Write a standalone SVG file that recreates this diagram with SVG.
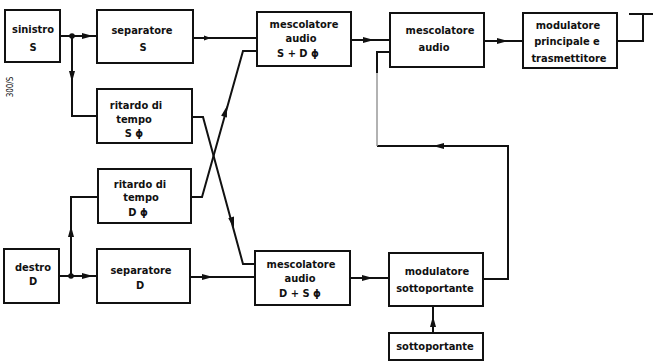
<svg xmlns="http://www.w3.org/2000/svg" xmlns:xlink="http://www.w3.org/1999/xlink" width="653" height="361" viewBox="0 0 653 361">
<style>
.box{fill:#fff;stroke:#111;stroke-width:2}
.t{font-family:"DejaVu Sans Condensed","DejaVu Sans",sans-serif;font-stretch:condensed;font-size:11px;font-weight:bold;fill:#111;text-anchor:middle}
.ln{fill:none;stroke:#111;stroke-width:2}
.gr{fill:none;stroke:#999;stroke-width:1.5}
.ah{fill:#111}
</style>
<defs>
<path id="ah" d="M0,0 L-11,-3 L-11,3 Z"/>
<path id="ahs" d="M0,0 L-7,-2.5 L-7,2.5 Z"/>
</defs>
<rect width="653" height="361" fill="#fff"/>
<text class="t" transform="translate(13,87) rotate(-90)" style="font-size:8px;font-weight:normal">300/S</text>

<g id="connectors">
<path class="ln" d="M60,36 H97"/>
<path class="ln" d="M72,36 V116 H97"/>
<path class="ln" d="M193,38 H257"/>
<path class="ln" d="M351,40 H390"/>
<path class="ln" d="M484,41 H523"/>
<path class="ln" d="M617,41 H643 V14 M629,14 H653"/>
<path class="ln" d="M192,117 H203 L243,264 H255"/>
<path class="ln" d="M191,197 H202 L243,51 H257"/>
<path class="ln" d="M59,276 H97"/>
<path class="ln" d="M71,276 V197 H98"/>
<path class="ln" d="M190,277 H255"/>
<path class="ln" d="M350,278 H389"/>
<path class="ln" d="M433,333 V306"/>
<path class="ln" d="M483,279 H508 V146 H377"/>
<path class="gr" d="M377,146 V72"/>
<path class="ln" d="M377,73 V52 H390"/>
<circle cx="72" cy="36" r="2.8" class="ah"/>
<circle cx="71" cy="276" r="2.8" class="ah"/>
<use xlink:href="#ah" class="ah" transform="translate(93,36)"/>
<use xlink:href="#ah" class="ah" transform="translate(72,82) rotate(90)"/>
<use xlink:href="#ahs" class="ah" transform="translate(211,38)"/>
<use xlink:href="#ah" class="ah" transform="translate(374,40)"/>
<use xlink:href="#ah" class="ah" transform="translate(508,41)"/>
<use xlink:href="#ah" class="ah" transform="translate(433,146) rotate(180)"/>
<use xlink:href="#ah" class="ah" transform="translate(234,228) rotate(74.8)"/>
<use xlink:href="#ah" class="ah" transform="translate(227,106) rotate(-74.3)"/>
<use xlink:href="#ah" class="ah" transform="translate(71,226) rotate(-90)"/>
<use xlink:href="#ah" class="ah" transform="translate(93,276)"/>
<use xlink:href="#ah" class="ah" transform="translate(213,277)"/>
<use xlink:href="#ah" class="ah" transform="translate(373,278)"/>
<use xlink:href="#ah" class="ah" transform="translate(433,316) rotate(-90)"/>
</g>

<g id="sinistro">
<rect class="box" x="5" y="10" width="55" height="52"/>
<text class="t" x="33" y="33">sinistro</text>
<text class="t" x="33" y="51">S</text>
</g>
<g id="separatore-s">
<rect class="box" x="97" y="10" width="96" height="53"/>
<text class="t" x="142" y="34">separatore</text>
<text class="t" x="143" y="51">S</text>
</g>
<g id="ritardo-s">
<rect class="box" x="97" y="89" width="95" height="54"/>
<text class="t" x="136" y="109">ritardo di</text>
<text class="t" x="134" y="123">tempo</text>
<text class="t" x="134" y="137">S ϕ</text>
</g>
<g id="mescolatore-sd">
<rect class="box" x="257" y="12" width="94" height="54"/>
<text class="t" x="304" y="28">mescolatore</text>
<text class="t" x="301" y="42">audio</text>
<text class="t" x="298" y="57">S + D ϕ</text>
</g>
<g id="mescolatore-audio">
<rect class="box" x="390" y="13" width="94" height="54"/>
<text class="t" x="440" y="34">mescolatore</text>
<text class="t" x="434" y="51">audio</text>
</g>
<g id="modulatore-principale">
<rect class="box" x="523" y="13" width="94" height="55"/>
<text class="t" x="568" y="29">modulatore</text>
<text class="t" x="567" y="45">principale e</text>
<text class="t" x="569" y="62">trasmettitore</text>
</g>
<g id="ritardo-d">
<rect class="box" x="98" y="169" width="93" height="54"/>
<text class="t" x="140" y="188">ritardo di</text>
<text class="t" x="141" y="201">tempo</text>
<text class="t" x="138" y="216">D ϕ</text>
</g>
<g id="destro">
<rect class="box" x="4" y="249" width="55" height="54"/>
<text class="t" x="33" y="271">destro</text>
<text class="t" x="33" y="285">D</text>
</g>
<g id="separatore-d">
<rect class="box" x="97" y="249" width="93" height="54"/>
<text class="t" x="141" y="274">separatore</text>
<text class="t" x="140" y="289">D</text>
</g>
<g id="mescolatore-ds">
<rect class="box" x="255" y="251" width="95" height="54"/>
<text class="t" x="301" y="268">mescolatore</text>
<text class="t" x="300" y="282">audio</text>
<text class="t" x="300" y="297">D + S ϕ</text>
</g>
<g id="modulatore-sottoportante">
<rect class="box" x="389" y="253" width="94" height="53"/>
<text class="t" x="437" y="275">modulatore</text>
<text class="t" x="435" y="292">sottoportante</text>
</g>
<g id="sottoportante">
<rect class="box" x="389" y="333" width="94" height="27"/>
<text class="t" x="435" y="350">sottoportante</text>
</g>
</svg>
